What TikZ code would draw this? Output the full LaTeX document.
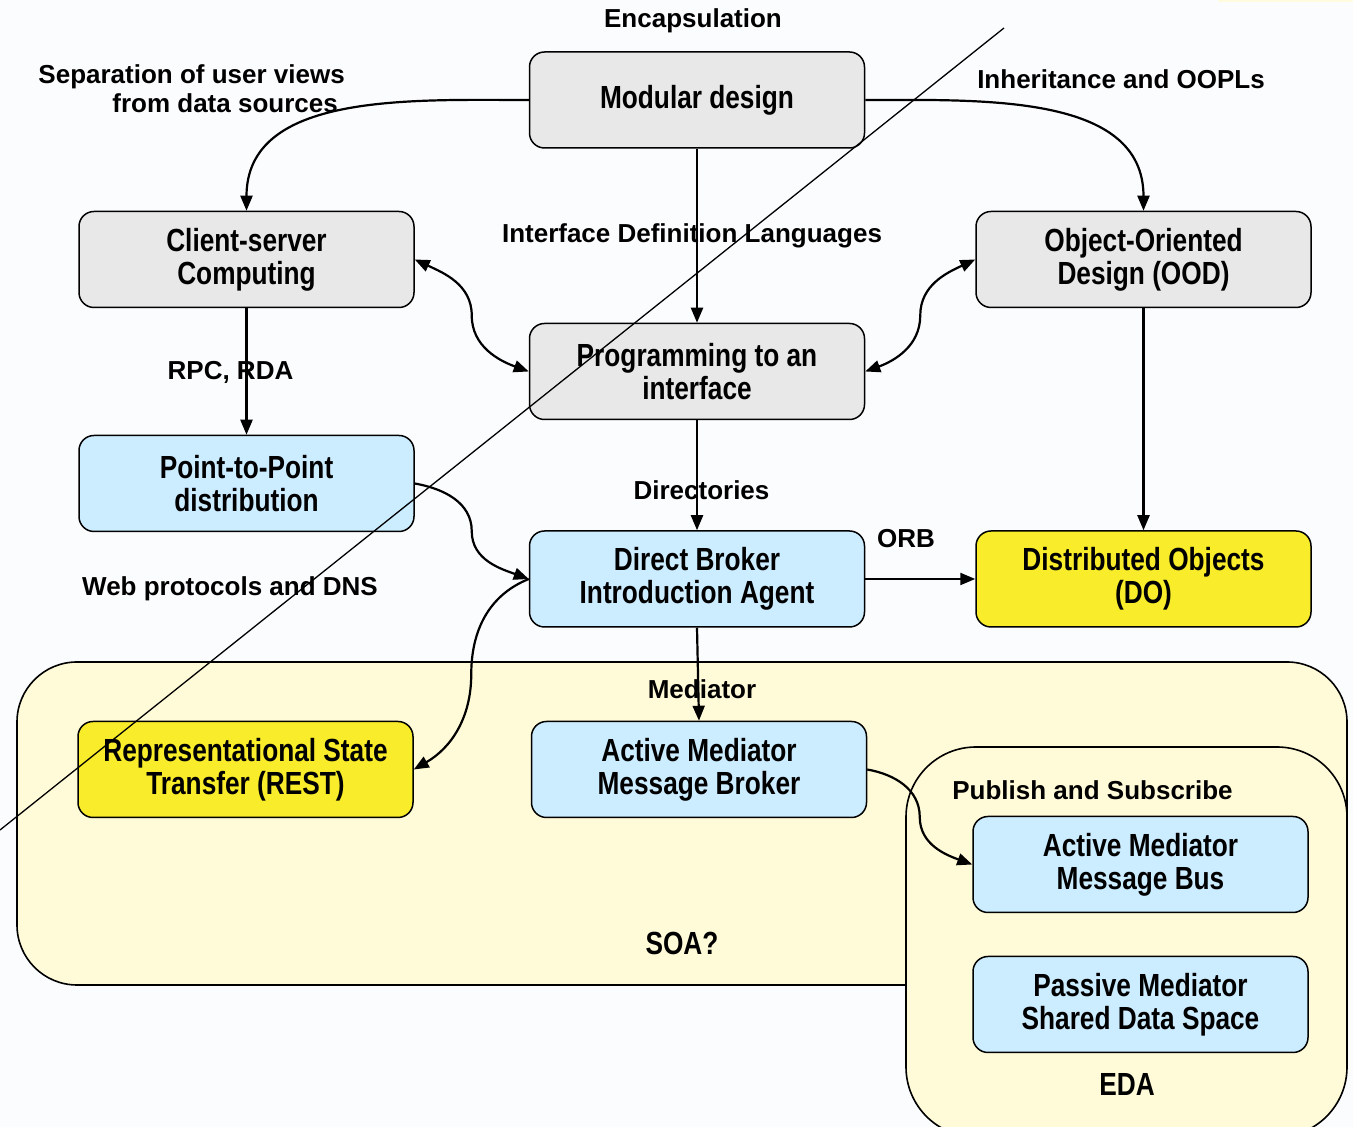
\documentclass[tikz,border=0pt]{standalone}
\usepackage{fontspec}
\setmainfont{Liberation Sans}
\newfontfamily\narrowsans[FakeStretch=0.82]{Liberation Sans}
\usetikzlibrary{arrows.meta,calc}

\definecolor{pagebg}{RGB}{251,252,254}
\definecolor{boxgrey}{RGB}{232,232,232}
\definecolor{boxblue}{RGB}{204,236,255}
\definecolor{boxyellow}{RGB}{249,236,42}
\definecolor{zonefill}{RGB}{255,250,216}
\definecolor{stripfill}{RGB}{255,251,222}

\begin{document}
\begin{tikzpicture}[x=1pt,y=1pt,
  >={Triangle[length=15pt,width=12pt]},
  box/.style={draw=black, line width=1.5pt, rounded corners=15pt,
    minimum width=335pt, minimum height=96pt, align=center, inner sep=0pt,
    font=\narrowsans\bfseries\fontsize{32}{33}\selectfont},
  zone/.style={draw=black, line width=1.6pt, fill=zonefill},
  conn/.style={line width=2.2pt},
  lbl/.style={anchor=base, inner sep=0pt,
    font=\bfseries\fontsize{26}{29}\selectfont},
  biglbl/.style={anchor=base, inner sep=0pt,
    font=\narrowsans\bfseries\fontsize{32}{33}\selectfont}]

% page
\fill[pagebg] (0,0) rectangle (1353,1127);
\useasboundingbox (0,0) rectangle (1353,1127);
\fill[stripfill] (1218,1125) rectangle (1353,1127);

% SOA and EDA zones
\draw[zone, rounded corners=60pt] (17,142) rectangle (1347,465);
\draw[zone, rounded corners=70pt] (906,-10) rectangle (1347,380);

% boxes
\node[box, fill=boxgrey]   (md)   at (697,1027)     {Modular design};
\node[box, fill=boxgrey]   (cs)   at (246.5,867.5)  {Client-server\\Computing};
\node[box, fill=boxgrey]   (ood)  at (1143.5,867.5) {Object-Oriented\\Design (OOD)};
\node[box, fill=boxgrey]   (pi)   at (697,755.5)    {Programming to an\\interface};
\node[box, fill=boxblue]   (p2p)  at (246.5,643.5)  {Point-to-Point\\distribution};
\node[box, fill=boxblue]   (db)   at (697,548)      {Direct Broker\\Introduction Agent};
\node[box, fill=boxyellow] (dobj) at (1143.5,548)   {Distributed Objects\\(DO)};
\node[box, fill=boxyellow] (rest) at (245.5,357.5)  {Representational State\\Transfer (REST)};
\node[box, fill=boxblue]   (amb)  at (699,357.5)    {Active Mediator\\Message Broker};
\node[box, fill=boxblue]   (bus)  at (1140.5,262.5) {Active Mediator\\Message Bus};
\node[box, fill=boxblue]   (pas)  at (1140.5,122.5) {Passive Mediator\\Shared Data Space};

% connectors
\draw[conn,->] (md.west) to[out=180,in=90] (cs.north);
\draw[conn,->] (md.east) to[out=0,in=90] (ood.north);
\draw[conn,->] (md.south) -- (pi.north);
\draw[conn,<->] (cs.east) to[out=-25,in=90] ($(cs.east)!.5!(pi.west)$)
  to[out=-90,in=160] (pi.west);
\draw[conn,<->] (ood.west) to[out=205,in=90] ($(ood.west)!.5!(pi.east)$)
  to[out=-90,in=20] (pi.east);
\draw[conn,->] (cs.south) -- (p2p.north);
\draw[conn,->] (pi.south) -- (db.north);
\draw[conn,->] (ood.south) -- (dobj.north);
\draw[conn,->] (p2p.east) to[out=-10,in=90] ($(p2p.east)!.5!(db.west)$)
  to[out=-90,in=160] (db.west);
\draw[conn,->] (db.west) to[out=202,in=90] ($(db.west)!.5!(rest.east)$)
  to[out=-90,in=30] (rest.east);
\draw[conn,->] (db.south) -- (amb.north);
\draw[conn,->] (db.east) -- (dobj.west);
\draw[conn,->] (amb.east) to[out=-10,in=90] ($(amb.east)!.5!(bus.west)$)
  to[out=-90,in=160] (bus.west);

% labels
\node[lbl] (encap) at (693,1099) {Encapsulation};
\node[lbl, anchor=base east] (sep1) at (345,1043) {Separation of user views};
\node[lbl, anchor=base east] (sep2) at (338,1014) {from data sources};
\node[lbl] (inh) at (1121,1038) {Inheritance and OOPLs};
\node[lbl] (idl) at (692,884) {Interface Definition Languages};
\node[lbl] (rpc) at (230.5,747) {RPC, RDA};
\node[lbl] (dir) at (701.5,627) {Directories};
\node[lbl] (orb) at (906,579) {ORB};
\node[lbl] (web) at (230,531) {Web protocols and DNS};
\node[lbl] (med) at (702,428) {Mediator};
\node[lbl] (pubsub) at (1092.5,327) {Publish and Subscribe};
\node[biglbl] (soa) at (682,172.5) {SOA?};
\node[biglbl] (eda) at (1127,31.5) {EDA};

% diagonal stroke across the chart
\coordinate (slashtop) at (1004,1099);
\coordinate (slashbot) at (0,297);
\draw[line width=1.3pt] (slashtop) -- (slashbot);
\end{tikzpicture}
\end{document}
